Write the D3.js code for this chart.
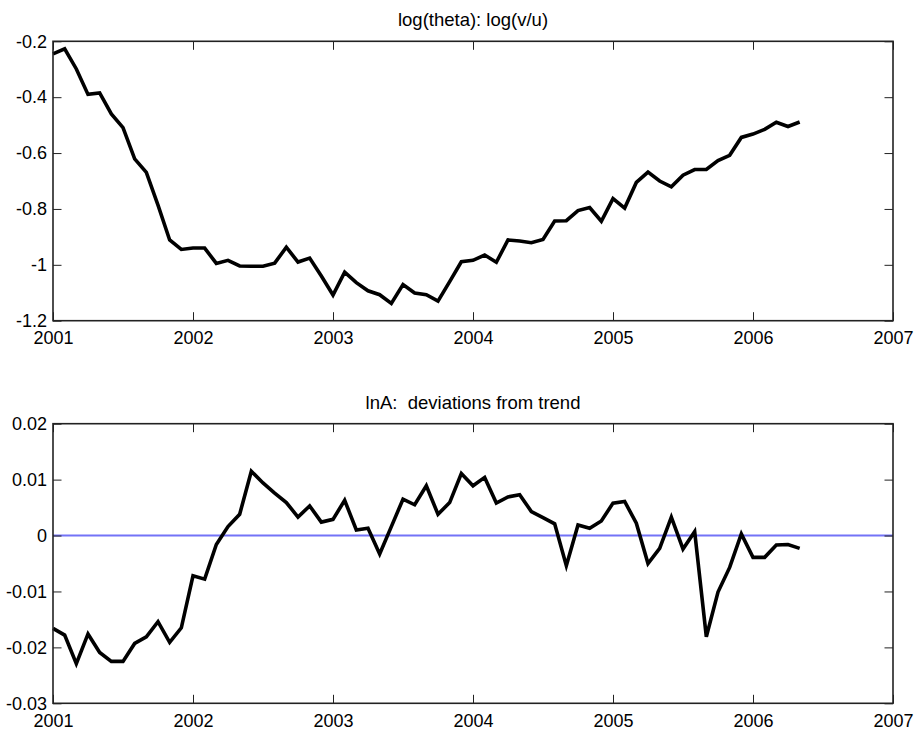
<!DOCTYPE html>
<html>
<head>
<meta charset="utf-8">
<script src="https://cdn.jsdelivr.net/npm/d3@7"></script>
<style>
  body { margin: 0; background: #fff; }
  svg text { font-family: "Liberation Sans", Arial, Helvetica, sans-serif; fill: #000; }
</style>
</head>
<body>
<div id="chart"></div>
<script>
const width = 918;
const height = 734;

// monthly observations, Jan 2001 .. May 2006
const startYear = 2001;
const yearTicks = [2001, 2002, 2003, 2004, 2005, 2006, 2007];

const logTheta = [
  -0.245, -0.227, -0.299, -0.390, -0.385, -0.460, -0.509, -0.621, -0.669, -0.786, -0.911, -0.945,
  -0.940, -0.940, -0.995, -0.984, -1.004, -1.005, -1.005, -0.994, -0.937, -0.990, -0.976, -1.040,
  -1.108, -1.026, -1.064, -1.093, -1.107, -1.138, -1.071, -1.101, -1.107, -1.130, -1.060, -0.989,
  -0.984, -0.965, -0.991, -0.911, -0.915, -0.921, -0.909, -0.843, -0.842, -0.806, -0.795, -0.844,
  -0.763, -0.797, -0.705, -0.668, -0.700, -0.721, -0.679, -0.659, -0.659, -0.627, -0.608, -0.544,
  -0.532, -0.515, -0.490, -0.505, -0.489
];
const thetaTicks = [-1.2, -1, -0.8, -0.6, -0.4, -0.2];

const lnA = [
  -0.0166, -0.0178, -0.0229, -0.0176, -0.0209, -0.0225, -0.0225, -0.0193, -0.0181, -0.0154, -0.0191, -0.0165,
  -0.0072, -0.0078, -0.0016, 0.0016, 0.0038, 0.0115, 0.0094, 0.0076, 0.0059, 0.0033, 0.0053, 0.0024,
  0.0029, 0.0063, 0.0010, 0.0013, -0.0033, 0.0016, 0.0065, 0.0055, 0.0089, 0.0038, 0.0059, 0.0111,
  0.0089, 0.0104, 0.0058, 0.0069, 0.0073, 0.0043, 0.0032, 0.0021, -0.0054, 0.0019, 0.0013, 0.0026,
  0.0058, 0.0061, 0.0022, -0.0050, -0.0023, 0.0033, -0.0024, 0.0007, -0.0181, -0.0101, -0.0057, 0.0003,
  -0.0039, -0.0039, -0.0017, -0.0016, -0.0023
];
const lnATicks = [-0.03, -0.02, -0.01, 0, 0.01, 0.02];

const svg = d3.select("#chart").append("svg")
  .attr("width", width)
  .attr("height", height);

const x = d3.scaleLinear().domain([2001, 2007]).range([53, 893]);

function fmt(d) {
  return String(Math.round(d * 1000) / 1000);
}

function panel(values, yDomain, yTicks, top, bottom, title, zeroLine) {
  var y = d3.scaleLinear().domain(yDomain).range([bottom, top]);
  var g = svg.append("g");

  // zero reference line
  if (zeroLine) {
    g.append("line")
      .attr("x1", x.range()[0]).attr("x2", x.range()[1])
      .attr("y1", y(0)).attr("y2", y(0))
      .style("stroke", "#7373f7")
      .style("stroke-width", 2);
  }

  var line = d3.line()
    .x((d, i) => x(startYear + i / 12))
    .y((d) => y(d));

  g.append("path")
    .datum(values)
    .attr("d", line)
    .style("fill", "none")
    .style("stroke", "#000")
    .style("stroke-width", 3.6)
    .style("stroke-linejoin", "miter");

  // axes, ticks pointing inward
  var bottomAxis = d3.axisBottom(x).tickValues(yearTicks).tickFormat(d3.format("d"))
    .tickSize(-8.5).tickPadding(11);
  var topAxis = d3.axisTop(x).tickValues(yearTicks).tickFormat("").tickSize(-8.5);
  var leftAxis = d3.axisLeft(y).tickValues(yTicks).tickFormat(fmt)
    .tickSize(-8.5).tickPadding(6);
  var rightAxis = d3.axisRight(y).tickValues(yTicks).tickFormat("").tickSize(-8.5);

  [
    [bottomAxis, "translate(0," + bottom + ")"],
    [topAxis, "translate(0," + top + ")"],
    [leftAxis, "translate(" + x.range()[0] + ",0)"],
    [rightAxis, "translate(" + x.range()[1] + ",0)"]
  ].forEach((a) => {
    var ax = g.append("g").attr("transform", a[1]).call(a[0]);
    ax.select(".domain").remove();
    ax.selectAll("line").style("stroke", "#222").style("stroke-width", 1);
    ax.selectAll("text").style("font-size", "18px").style("fill", "#000")
      .style("font-family", '"Liberation Sans", Arial, Helvetica, sans-serif');
  });

  // box
  g.append("rect")
    .attr("x", x.range()[0]).attr("y", top)
    .attr("width", x.range()[1] - x.range()[0])
    .attr("height", bottom - top)
    .style("fill", "none")
    .style("stroke", "#222")
    .style("stroke-width", 1.6);

  g.append("text")
    .attr("x", (x.range()[0] + x.range()[1]) / 2)
    .attr("y", top - 15)
    .attr("text-anchor", "middle")
    .style("font-size", "18.5px")
    .style("white-space", "pre")
    .text(title);
}

panel(logTheta, [-1.2, -0.2], thetaTicks, 41.3, 320.7, "log(theta): log(v/u)", false);
panel(lnA, [-0.03, 0.02], lnATicks, 423.7, 703.3, "lnA:  deviations from trend", true);
</script>
</body>
</html>
